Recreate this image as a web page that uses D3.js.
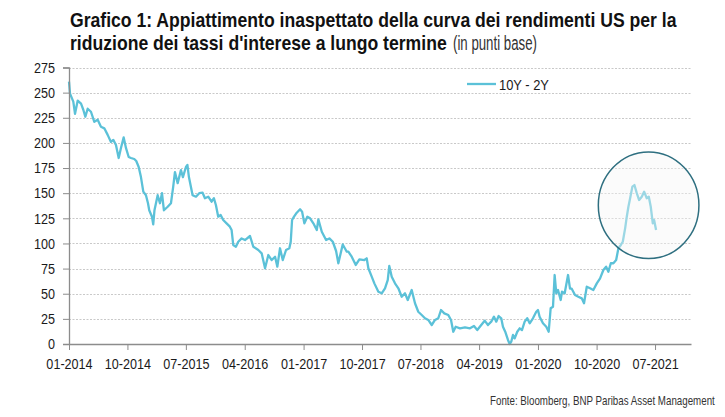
<!DOCTYPE html>
<html>
<head>
<meta charset="utf-8">
<script src="https://cdn.jsdelivr.net/npm/d3@7"></script>
<style>
  html, body { margin: 0; padding: 0; background: #fff; }
  svg { display: block; }
  text { font-family: 'Liberation Sans', Arial, sans-serif; }
</style>
</head>
<body>
<svg id="chart" width="725" height="417"></svg>
<script>
// ---- Data (dates as decimal years, values in basis points) ----
const seriesName = "10Y - 2Y";
const decimalYears = [
  2014.000, 2014.013, 2014.055, 2014.077, 2014.111, 2014.154, 2014.183, 2014.209, 2014.239, 2014.281,
  2014.324, 2014.367, 2014.409, 2014.452, 2014.495, 2014.537, 2014.567, 2014.601, 2014.636, 2014.665,
  2014.700, 2014.729, 2014.764, 2014.793, 2014.835, 2014.861, 2014.892, 2014.921, 2014.951, 2014.985,
  2015.011, 2015.027, 2015.062, 2015.078, 2015.094, 2015.135, 2015.164, 2015.190, 2015.215, 2015.263,
  2015.305, 2015.334, 2015.356, 2015.391, 2015.433, 2015.458, 2015.497, 2015.516, 2015.535, 2015.582,
  2015.625, 2015.667, 2015.710, 2015.740, 2015.782, 2015.825, 2015.855, 2015.881, 2015.910, 2015.941,
  2015.974, 2016.017, 2016.059, 2016.081, 2016.102, 2016.136, 2016.166, 2016.209, 2016.252, 2016.316,
  2016.358, 2016.422, 2016.465, 2016.508, 2016.550, 2016.593, 2016.636, 2016.665, 2016.699, 2016.734,
  2016.776, 2016.818, 2016.836, 2016.853, 2016.878, 2016.913, 2016.955, 2016.981, 2017.010, 2017.048,
  2017.083, 2017.125, 2017.169, 2017.189, 2017.233, 2017.288, 2017.330, 2017.374, 2017.416, 2017.445,
  2017.501, 2017.553, 2017.573, 2017.616, 2017.668, 2017.714, 2017.778, 2017.808, 2017.829, 2017.872,
  2017.906, 2017.957, 2018.000, 2018.042, 2018.077, 2018.097, 2018.128, 2018.170, 2018.213, 2018.256,
  2018.298, 2018.333, 2018.384, 2018.426, 2018.468, 2018.512, 2018.554, 2018.596, 2018.640, 2018.682,
  2018.724, 2018.759, 2018.801, 2018.852, 2018.887, 2018.916, 2018.947, 2019.002, 2019.066, 2019.130,
  2019.181, 2019.223, 2019.274, 2019.318, 2019.360, 2019.402, 2019.437, 2019.466, 2019.497, 2019.530,
  2019.552, 2019.581, 2019.616, 2019.638, 2019.658, 2019.680, 2019.702, 2019.735, 2019.766, 2019.795,
  2019.830, 2019.863, 2019.894, 2019.936, 2019.978, 2020.000, 2020.021, 2020.064, 2020.106, 2020.137,
  2020.162, 2020.192, 2020.213, 2020.234, 2020.256, 2020.290, 2020.307, 2020.341, 2020.384, 2020.409,
  2020.431, 2020.473, 2020.515, 2020.559, 2020.588, 2020.623, 2020.665, 2020.707, 2020.751, 2020.793,
  2020.835, 2020.870, 2020.899, 2020.930, 2020.963, 2020.998, 2021.027, 2021.058, 2021.083, 2021.113,
  2021.134, 2021.155, 2021.177, 2021.206, 2021.232, 2021.262, 2021.292, 2021.326, 2021.356, 2021.390,
  2021.416, 2021.441, 2021.467, 2021.484, 2021.509
];
const spreadValues = [
  261, 249, 241, 229, 242, 239, 233, 226, 234, 231,
  221, 223, 216, 214.5, 208, 201, 203, 198, 185, 195,
  205.5, 195, 186, 185, 184, 182, 176, 166, 151.5, 148,
  140, 133, 126.6, 119, 133, 148, 140, 150, 133, 136.5,
  140, 156.5, 171, 160, 173, 166, 176, 178, 166, 148,
  146.5, 150, 150.5, 145, 146.5, 141.5, 145, 138, 126.6, 128.3,
  123.3, 120, 116.7, 113.4, 98.5, 96.8, 101.7, 105, 103.4, 107.4,
  96.8, 93.5, 90.2, 75.3, 88.5, 83.5, 86.8, 76.9, 95.2, 83.5,
  93.5, 95.2, 101.7, 123.3, 126.6, 130.6, 134, 131.6, 120, 126.6,
  125, 120, 113.4, 124, 111.7, 103.4, 105, 101.7, 92.5, 80.3,
  99, 91.8, 91.8, 86.8, 78.6, 84.2, 83.5, 85.2, 75.3, 67,
  60.3, 52, 50.4, 55.4, 63.6, 77.6, 67, 60.3, 55.4, 47,
  50.4, 43.8, 53.7, 40.5, 32.1, 28.8, 25.6, 23.9, 18.9, 23.9,
  25.6, 33.8, 30.5, 28.8, 23.9, 12.2, 17.2, 15.6, 16.6, 15.6,
  17.9, 13.9, 18.9, 23.2, 18.9, 22.2, 27.2, 22.2, 27.8, 25.6,
  17.2, 12.2, 4, 0, 2.3, 9, 5.6, 12.2, 15.6, 13.9,
  22.2, 25.6, 20.6, 25.6, 32.1, 33.8, 27.2, 20.6, 17.2, 12.2,
  35.5, 37.1, 68.6, 50.4, 53.7, 43.8, 52, 50.4, 68.6, 55,
  55, 48.7, 47, 45.4, 40.5, 57, 55.4, 53.7, 60.3, 65.3,
  73.6, 76.9, 71.9, 80.3, 80.3, 83.5, 95.2, 98.5, 101.7, 115,
  126.6, 136.5, 145, 156.5, 158.1, 150, 143.2, 146.5, 151.5, 145,
  146.5, 136.5, 120, 123.3, 113.4
];
const yTickValues = [0, 25, 50, 75, 100, 125, 150, 175, 200, 225, 250, 275];
const xTickLabels = ["01-2014", "10-2014", "07-2015", "04-2016", "01-2017", "10-2017",
                     "07-2018", "04-2019", "01-2020", "10-2020", "07-2021"];
const titleLine1 = "Grafico 1: Appiattimento inaspettato della curva dei rendimenti US per la";
const titleLine2Bold = "riduzione dei tassi d'interese a lungo termine";
const titleLine2Normal = "(in punti base)";
const sourceText = "Fonte:  Bloomberg, BNP Paribas Asset Management";
// highlighted region (ellipse annotation)
const highlightStart = "2020-10-09", highlightEnd = "2022-01-22";
const highlightLow = 85, highlightHigh = 191;

// ---- helpers ----
function decToDate(d) {
  const yr = Math.floor(d);
  const s = Date.UTC(yr, 0, 1), e = Date.UTC(yr + 1, 0, 1);
  return new Date(s + (d - yr) * (e - s));
}
const parseTick = s => { const [m, yr] = s.split("-").map(Number); return new Date(Date.UTC(yr, m - 1, 1)); };
const data = decimalYears.map((d, i) => ({ date: decToDate(d), value: spreadValues[i] }));
// emulate a narrow (condensed) face on axis labels
function condense(sel, factor) {
  sel.each(function () {
    const w = this.getComputedTextLength();
    d3.select(this).attr("textLength", w * factor).attr("lengthAdjust", "spacingAndGlyphs");
  });
}
// free text squeezed horizontally with a transform
function narrowText(px, py, str, size, weight, fill, factor) {
  const g = svg.append("g").attr("transform", `translate(${px},${py}) scale(${factor},1)`);
  return g.append("text").attr("x", 0).attr("y", 0).attr("font-size", size)
    .attr("font-weight", weight).attr("fill", fill).text(str);
}
function naturalWidth(str, size, weight) {
  const t = svg.append("text").attr("font-size", size).attr("font-weight", weight).text(str);
  const w = t.node().getComputedTextLength();
  t.remove();
  return w;
}

// ---- layout ----
const svg = d3.select("#chart");
const plotLeft = 69, plotRight = 691, plotTop = 67.5, plotBottom = 344;
const lineColor = "#5bc1d8";
const narrow = 0.84;

const x = d3.scaleUtc()
  .domain([new Date(Date.UTC(2014, 0, 1)), new Date(Date.UTC(2021, 11, 16))])
  .range([plotLeft, plotRight]);
const y = d3.scaleLinear().domain([0, 275]).range([plotBottom, plotTop]);

// gridlines
svg.append("g").selectAll("line")
  .data(yTickValues.filter(v => v > 0))
  .join("line")
  .attr("x1", plotLeft).attr("x2", plotRight)
  .attr("y1", d => Math.round(y(d)) + 0.5).attr("y2", d => Math.round(y(d)) + 0.5)
  .attr("stroke", "#c9c9c9").attr("stroke-width", 1).attr("stroke-dasharray", "2,1.5");

// line
const line = d3.line().x(d => x(d.date)).y(d => y(d.value));
svg.append("path").datum(data)
  .attr("d", line)
  .attr("fill", "none")
  .attr("stroke", lineColor)
  .attr("stroke-width", 2.3)
  .attr("stroke-linejoin", "round");

// y axis
const yAxis = d3.axisLeft(y).tickValues(yTickValues).tickSize(6).tickPadding(8);
const gy = svg.append("g").attr("transform", `translate(${plotLeft},0)`).call(yAxis);
gy.attr("font-family", null);
gy.select(".domain").attr("stroke", "#8c8c8c").attr("stroke-width", 1.3);
gy.selectAll(".tick line").attr("stroke", "#8c8c8c");
gy.selectAll(".tick text").attr("font-size", 15).attr("fill", "#1a1a1a").call(condense, narrow);

// x axis
const xAxis = d3.axisBottom(x)
  .tickValues(xTickLabels.map(parseTick))
  .tickFormat((d, i) => xTickLabels[i])
  .tickSize(6).tickPadding(8).tickSizeOuter(0);
const gx = svg.append("g").attr("transform", `translate(0,${plotBottom})`).call(xAxis);
gx.attr("font-family", null);
gx.select(".domain").attr("stroke", "#8c8c8c").attr("stroke-width", 1.3);
gx.selectAll(".tick line").attr("stroke", "#8c8c8c");
gx.selectAll(".tick text").attr("font-size", 15).attr("fill", "#1a1a1a").call(condense, narrow);

// highlight ellipse
const hx0 = x(new Date(highlightStart)), hx1 = x(new Date(highlightEnd));
svg.append("ellipse")
  .attr("cx", (hx0 + hx1) / 2)
  .attr("cy", (y(highlightLow) + y(highlightHigh)) / 2)
  .attr("rx", (hx1 - hx0) / 2)
  .attr("ry", (y(highlightLow) - y(highlightHigh)) / 2)
  .attr("fill", "rgba(246,246,246,0.42)")
  .attr("stroke", "#2e6f80")
  .attr("stroke-width", 1.5);

// legend
svg.append("line").attr("x1", 467).attr("x2", 496).attr("y1", 84).attr("y2", 84)
  .attr("stroke", lineColor).attr("stroke-width", 2.3);
narrowText(499, 89.5, seriesName, 15, "normal", "#1a1a1a", 50 / naturalWidth(seriesName, 15, "normal"));

// title (same condensed factor for both lines)
const titleSize = 19.5;
const titleFactor = 377 / naturalWidth(titleLine2Bold, titleSize, "bold");
narrowText(70, 27, titleLine1, titleSize, "bold", "#111", titleFactor);
narrowText(70, 50, titleLine2Bold, titleSize, "bold", "#111", titleFactor);
narrowText(453, 50, titleLine2Normal, titleSize, "normal", "#333", 84 / naturalWidth(titleLine2Normal, titleSize, "normal"));

// source
narrowText(490, 405, sourceText, 12.5, "normal", "#333", 225 / naturalWidth(sourceText, 12.5, "normal"));
</script>
</body>
</html>
